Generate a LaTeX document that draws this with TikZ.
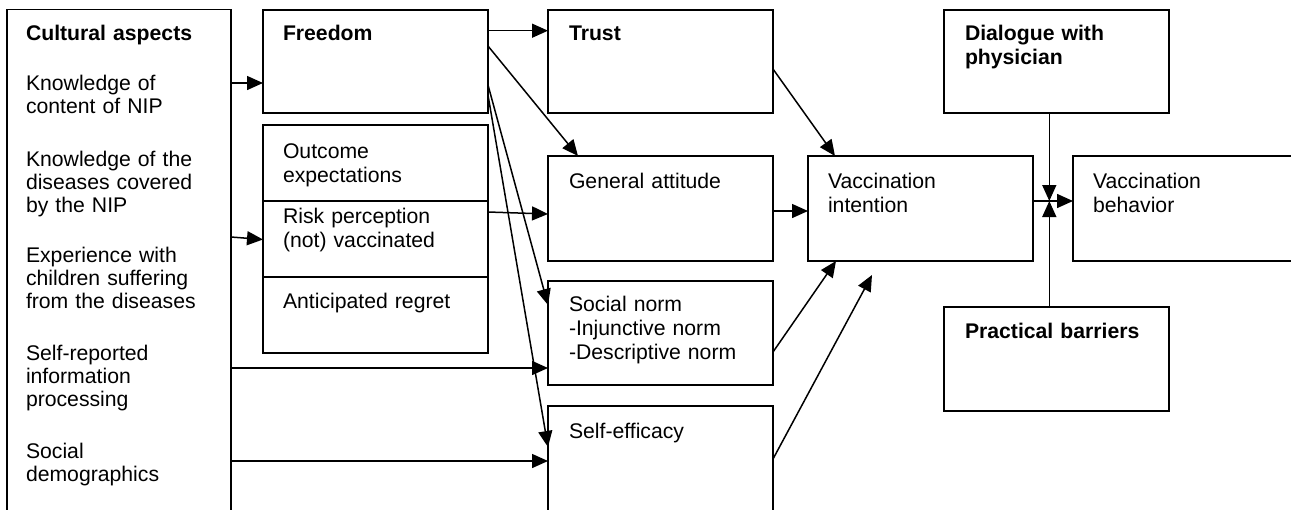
\documentclass[tikz,border=0pt]{standalone}
\usepackage{fontspec}
\setmainfont{Liberation Sans}
\usetikzlibrary{arrows.meta,calc,fit}
\begin{document}
\begin{tikzpicture}[x=0.5pt,y=-0.5pt,
  box/.style={draw,line width=0.95pt,inner sep=0pt,outer sep=0pt,rectangle},
  arr/.style={line width=0.75pt,-{Triangle[length=8pt,width=7pt]}},
  txt/.style={anchor=base west,inner sep=0pt,outer sep=0pt,align=left,text width=115pt,font=\fontsize{10.6pt}{12.2pt}\selectfont},
  ctxt/.style={txt,font=\fontsize{10.6pt}{11.5pt}\selectfont},
  btxt/.style={txt,font=\fontsize{10.6pt}{12.2pt}\selectfont\bfseries}]
\useasboundingbox (0,0) rectangle (1291,509);
\clip (0,0) rectangle (1291,509);
\fill[white] (0,0) rectangle (1291,509);

% boxes
\node[box,fit={(7,9.5) (231,600)}] (cult) {};
\node[box,fit={(263,10) (488,113)}] (freedom) {};
\node[box,fit={(263,125) (488,201)}] (outcome) {};
\node[box,fit={(263,201) (488,277)}] (risk) {};
\node[box,fit={(263,277) (488,353)}] (regret) {};
\node[box,fit={(548,10) (773,113)}] (trust) {};
\node[box,fit={(548,156) (773,261)}] (ga) {};
\node[box,fit={(548,281) (773,385)}] (sn) {};
\node[box,fit={(548,406) (773,600)}] (se) {};
\node[box,fit={(808,156) (1033,261)}] (vi) {};
\node[box,fit={(1073,156) (1400,261)}] (vb) {};
\node[box,fit={(944,10) (1169,113)}] (dia) {};
\node[box,fit={(944,307) (1169,411)}] (pb) {};

% texts
\node[btxt] (tcult) at (26,40) {Cultural aspects};
\node[ctxt] (tk1) at (26,90) {Knowledge of\\content of NIP};
\node[ctxt] (tk2) at (26,166) {Knowledge of the\\diseases covered\\by the NIP};
\node[ctxt] (tex) at (26,262) {Experience with\\children suffering\\from the diseases};
\node[ctxt] (tsr) at (26,360) {Self-reported\\information\\processing};
\node[ctxt] (tsd) at (26,458) {Social\\demographics};
\node[btxt] (tfree) at (283,40) {Freedom};
\node[txt] (tout) at (283,158) {Outcome\\expectations};
\node[txt] (trisk) at (283,223) {Risk perception\\(not) vaccinated};
\node[txt] (treg) at (283,308) {Anticipated regret};
\node[btxt] (ttrust) at (569,40) {Trust};
\node[txt] (tga) at (569,188) {General attitude};
\node[txt] (tsn) at (569,311) {Social norm\\-Injunctive norm\\-Descriptive norm};
\node[txt] (tse) at (569,438) {Self-efficacy};
\node[txt] (tvi) at (828,188) {Vaccination\\intention};
\node[btxt] (tdia) at (965,40) {Dialogue with\\physician};
\node[btxt] (tpb) at (965,338) {Practical barriers};
\node[txt] (tvb) at (1093,188) {Vaccination\\behavior};

% coordinates
\coordinate (jn) at (1049.3,201);
\coordinate (seend) at (872,275);

% connectors
\draw[arr] (cult.east |- 0,83) -- (freedom.west |- 0,83);
\draw[arr] (cult.east |- 0,237) -- (risk.west |- 0,239.5);
\draw[arr] (freedom.east |- 0,30.7) -- (trust.west |- 0,30.7);
\draw[arr] (freedom.east |- 0,46) -- ($(ga.north west)+(30,0)$);
\draw[arr] (risk.east |- 0,212) -- (ga.west |- 0,214);
\draw[arr] (freedom.east |- 0,85) -- (sn.west |- 0,305);
\draw[arr] (freedom.east |- 0,95) -- (se.west |- 0,447);
\draw[arr] (cult.east |- 0,368) -- (sn.west |- 0,368);
\draw[arr] (cult.east |- 0,461) -- (se.west |- 0,461);
\draw[arr] (trust.east |- 0,69) -- ($(vi.north west)+(27,0)$);
\draw[arr] (ga.east |- 0,211) -- (vi.west |- 0,211);
\draw[arr] (sn.east |- 0,352) -- ($(vi.south west)+(28,0)$);
\draw[arr] (se.east |- 0,459) -- (seend);
\draw[arr] (vi.east |- 0,201) -- (vb.west |- 0,201);
\draw[arr] (dia.south -| jn) -- (jn);
\draw[arr] (pb.north -| jn) -- (jn);
\end{tikzpicture}
\end{document}
